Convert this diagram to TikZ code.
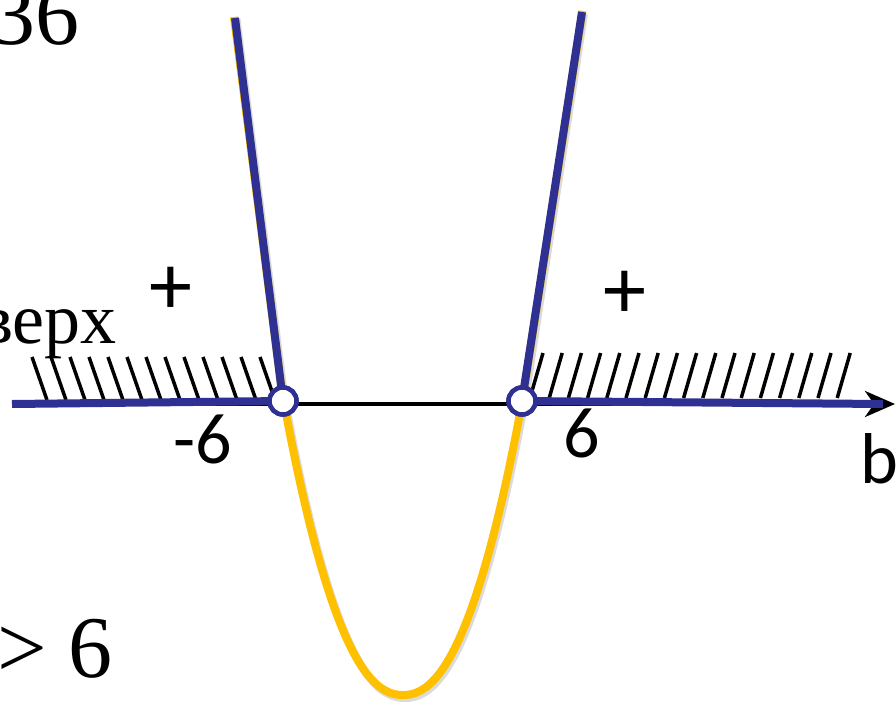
\documentclass[tikz,border=0pt]{standalone}
\usepackage{fontspec}
\setmainfont{Liberation Serif}
\newfontfamily\calib{Carlito}
\usetikzlibrary{arrows.meta}
\definecolor{dblue}{RGB}{46,49,146}
\definecolor{yel}{RGB}{255,192,0}
\tikzset{
  yline/.style={draw=yel,line width=8pt,line join=round},
  bline/.style={draw=dblue,line width=8pt},
  shadowline/.style={draw=black!40,opacity=0.35,line width=8pt,line join=round},
  hatchline/.style={draw=black,line width=3.5pt},
  axisline/.style={draw=black,line width=4pt,-{Stealth[length=30pt,width=26pt,inset=9pt]}},
  opendot/.style={circle,draw=dblue,line width=4.5pt,fill=white,minimum size=27pt,inner sep=0pt},
  serifbig/.style={inner sep=0pt,font=\fontsize{88}{88}\selectfont},
  serifmid/.style={inner sep=0pt,font=\fontsize{72}{72}\selectfont},
  sanslab/.style={inner sep=0pt,font=\calib\fontsize{72}{72}\selectfont},
  plusmark/.style={inner sep=0pt,font=\calib\fontsize{86}{86}\selectfont}
}
\begin{document}
\begin{tikzpicture}[x=1pt,y=-1pt]
\useasboundingbox (0,0) rectangle (896,706);
% coordinates
\coordinate (axL) at (12,404);
\coordinate (axR) at (895,404);
\coordinate (bR) at (883,404);
\coordinate (topL) at (235,18);
\coordinate (topR) at (582,12);
% yellow parabola with shadow
\draw[shadowline] (236.5,19) -- (285,403) -- plot[domain=-119.5:119.5,samples=80,smooth] ({405+\x},{698-295*(abs(\x)/119.5)^2.2}) -- (584,14);
\draw[yline] (234,17) -- (283,400) -- plot[domain=-119.5:119.5,samples=80,smooth] ({403+\x},{695-295*(abs(\x)/119.5)^2.2}) -- (582.5,11);
% axis
\draw[axisline] (axL) -- (axR);
% hatching
\foreach \i in {0,...,12}{
  \draw[hatchline] ({32+19*\i},357) -- ({47+19*\i},400);
}
\foreach \i in {0,...,16}{
  \draw[hatchline] ({543+19.2*\i},353) -- ({530+19.2*\i},398);
}
% open points
\node[opendot] (cL) at (283,401) {};
\node[opendot] (cR) at (522,401) {};
% blue parts
\draw[bline] (axL) -- (cL.center);
\draw[bline] (cR.center) -- (bR);
\draw[bline] (topL) -- (cL.center);
\draw[bline] (topR) -- (cR.center);
\node[opendot] at (cL) {};
\node[opendot] at (cR) {};
% labels
\node[serifbig,anchor=base east] (t36) at (80,45) {36};
\node[serifmid,anchor=base east] (tverh) at (117,343) {верх};
\node[serifbig,anchor=base east] (tgt) at (113,677) {> 6};
\node[plusmark] (pL) at (171,291) {+};
\node[plusmark] (pR) at (625,295) {+};
\node[sanslab,anchor=base] (mL) at (203,463) {-6};
\node[sanslab,anchor=base] (mR) at (582,457) {6};
\node[sanslab,anchor=base west] (lb) at (860,483) {b};
\end{tikzpicture}
\end{document}
